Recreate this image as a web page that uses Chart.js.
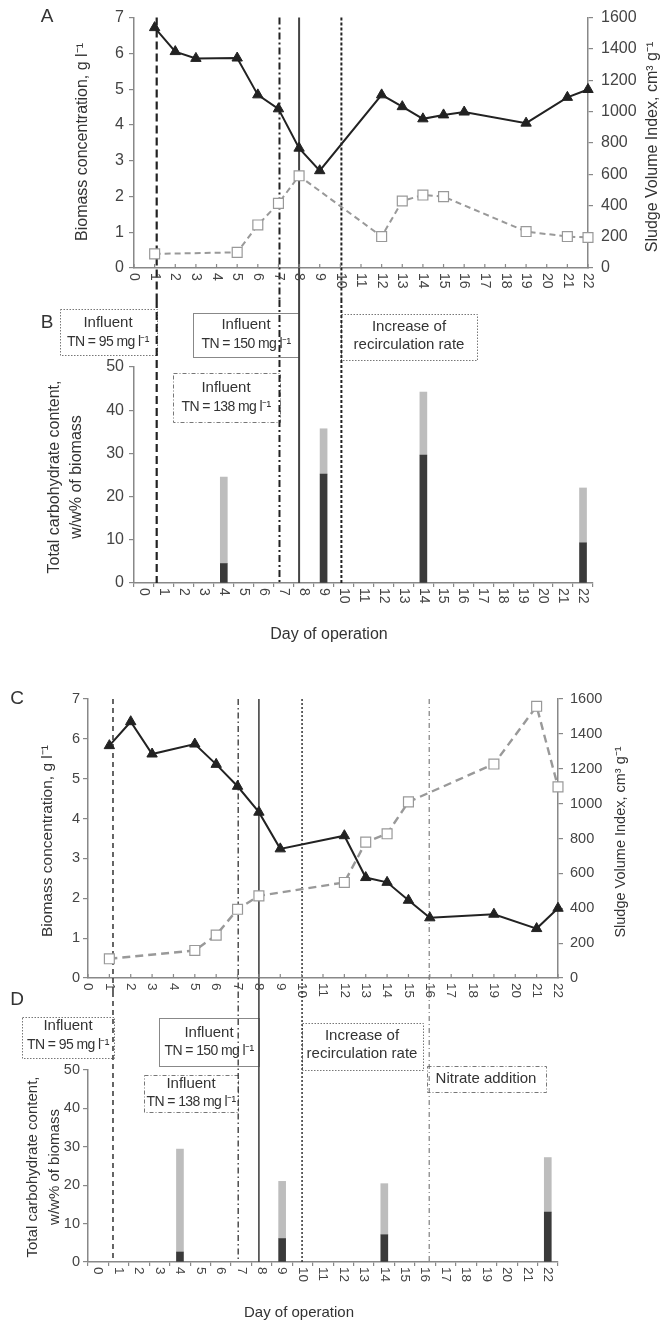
<!DOCTYPE html>
<html>
<head>
  <title>Biomass, SVI and carbohydrate content</title>
  <script src="https://cdn.jsdelivr.net/npm/chart.js@4"></script>
  <style>
    body {
      margin: 0;
      background-color: #fff;
    }

    .wrap {
      position: relative;
      width: 662px;
      height: 1326px;
    }

    canvas {
      position: absolute;
      left: 0;
    }
  </style>
</head>
<body>
  <div class="wrap">
    <canvas id="chartA" width="662" height="305" style="top:0px"></canvas>
    <canvas id="chartB" width="662" height="355" style="top:295px"></canvas>
    <canvas id="chartC" width="662" height="350" style="top:650px"></canvas>
    <canvas id="chartD" width="662" height="341" style="top:985px"></canvas>
  </div>

  <script>
    // days on the x axis
    const dayTicks = [0, 1, 2, 3, 4, 5, 6, 7, 8, 9, 10, 11, 12, 13, 14, 15, 16, 17, 18, 19, 20, 21, 22];

    // panel A
    const bioDaysA = [1, 2, 3, 5, 6, 7, 8, 9, 12, 13, 14, 15, 16, 19, 21, 22];
    const biomassA = [6.72, 6.05, 5.86, 5.87, 4.84, 4.45, 3.35, 2.72, 4.84, 4.51, 4.17, 4.28, 4.36, 4.05, 4.77, 4.99];
    const sviDaysA = [1, 5, 6, 7, 8, 12, 13, 14, 15, 19, 21, 22];
    const sviA = [90, 100, 275, 413, 589, 201, 428, 466, 456, 233, 201, 195];
    const eventDaysA = [1.1, 7.05, 8.0, 10.05];

    // panel B
    const carbDaysB = [4, 9, 14, 22];
    const carbDarkB = [4.5, 25.2, 29.6, 9.3];
    const carbLightB = [20.0, 10.5, 14.6, 12.7];

    // panel C
    const bioDaysC = [1, 2, 3, 5, 6, 7, 8, 9, 12, 13, 14, 15, 16, 19, 21, 22];
    const biomassC = [5.83, 6.43, 5.62, 5.87, 5.36, 4.81, 4.16, 3.24, 3.57, 2.52, 2.40, 1.95, 1.51, 1.60, 1.24, 1.75];
    const sviDaysC = [1, 5, 6, 7, 8, 12, 13, 14, 15, 19, 21, 22];
    const sviC = [110, 158, 246, 394, 471, 548, 779, 827, 1010, 1227, 1558, 1096];
    const eventDaysC = [1.17, 7.03, 8.0, 10.02, 15.97];

    // panel D
    const carbDaysD = [4, 9, 14, 22];
    const carbDarkD = [2.6, 6.1, 7.1, 13.0];
    const carbLightD = [26.8, 14.9, 13.3, 14.2];

    const FONT = '"Liberation Sans", Arial, sans-serif';
    const TXT = '#333';
    const AXIS = '#888';

    // line styles of the vertical event lines
    const eventStyleA = [
      { color: '#222', width: 2.2, dash: [8, 4] },
      { color: '#222', width: 2, dash: [7, 3, 2, 3] },
      { color: '#444', width: 2, dash: [] },
      { color: '#222', width: 2, dash: [3, 2] }
    ];
    const eventStyleC = [
      { color: '#333', width: 1.5, dash: [5, 4] },
      { color: '#333', width: 1.3, dash: [6, 3, 1.5, 3] },
      { color: '#444', width: 1.6, dash: [] },
      { color: '#333', width: 1.5, dash: [2, 2] },
      { color: '#666', width: 1, dash: [5, 3, 1, 3] }
    ];

    // annotation boxes (page coordinates)
    const boxesB = [
      { x: 60, y: 309, w: 97, h: 46, dash: [1.5, 1.5], lines: ['Influent', 'TN = 95 mg l⁻¹'], rows: [323, 342], cx: 108 },
      { x: 193, y: 313, w: 106, h: 44, dash: [], lines: ['Influent', 'TN = 150 mg l⁻¹'], rows: [325, 344], cx: 246 },
      { x: 173, y: 373, w: 107, h: 49, dash: [4, 2, 1, 2], lines: ['Influent', 'TN = 138 mg l⁻¹'], rows: [388, 407], cx: 226 },
      { x: 341, y: 314, w: 136, h: 46, dash: [1.5, 1.5], lines: ['Increase of', 'recirculation rate'], rows: [327, 345], cx: 409 }
    ];
    const boxesD = [
      { x: 22, y: 1017, w: 92, h: 41, dash: [1.5, 1.5], lines: ['Influent', 'TN = 95 mg l⁻¹'], rows: [1026, 1045], cx: 68 },
      { x: 159, y: 1018, w: 100, h: 48, dash: [], lines: ['Influent', 'TN = 150 mg l⁻¹'], rows: [1033, 1051], cx: 209 },
      { x: 144, y: 1075, w: 94, h: 37, dash: [4, 2, 1, 2], lines: ['Influent', 'TN = 138 mg l⁻¹'], rows: [1084, 1102], cx: 191 },
      { x: 302, y: 1023, w: 121, h: 47, dash: [1.5, 1.5], lines: ['Increase of', 'recirculation rate'], rows: [1036, 1054], cx: 362 },
      { x: 427, y: 1066, w: 119, h: 26, dash: [4, 2, 1, 2], lines: ['Nitrate addition'], rows: [1079], cx: 486 }
    ];

    let chartA, chartC;

    function vText(ctx, text, x, y, size) {
      ctx.save();
      ctx.translate(x, y);
      ctx.rotate(-Math.PI / 2);
      ctx.font = size + 'px ' + FONT;
      ctx.fillStyle = TXT;
      ctx.textAlign = 'center';
      ctx.textBaseline = 'middle';
      ctx.fillText(text, 0, 0);
      ctx.restore();
    }

    function hText(ctx, text, x, y, size, spacing) {
      ctx.save();
      ctx.font = size + 'px ' + FONT;
      ctx.fillStyle = TXT;
      ctx.textAlign = 'center';
      ctx.textBaseline = 'middle';
      if (spacing) ctx.letterSpacing = spacing;
      ctx.fillText(text, x, y);
      ctx.restore();
    }

    // day labels rotated clockwise, read top to bottom
    function dayLabels(chart, pixelFor, size, inwardTicks) {
      const ctx = chart.ctx;
      const bottom = chart.chartArea.bottom;
      dayTicks.forEach((d, i) => {
        const x = pixelFor(d, i);
        if (inwardTicks) {
          ctx.save();
          ctx.strokeStyle = AXIS;
          ctx.lineWidth = 1.2;
          ctx.beginPath();
          ctx.moveTo(x, bottom);
          ctx.lineTo(x, bottom - 4);
          ctx.stroke();
          ctx.restore();
        }
        ctx.save();
        ctx.translate(x, bottom + 5);
        ctx.rotate(Math.PI / 2);
        ctx.font = size + 'px ' + FONT;
        ctx.fillStyle = '#444';
        ctx.textAlign = 'left';
        ctx.textBaseline = 'middle';
        ctx.fillText(String(d), 0, 0);
        ctx.restore();
      });
    }

    function eventLines(ctx, scale, days, styles, y1, y2) {
      days.forEach((d, i) => {
        const st = styles[i];
        const x = scale.getPixelForValue(d);
        ctx.save();
        ctx.strokeStyle = st.color;
        ctx.lineWidth = st.width;
        ctx.setLineDash(st.dash);
        ctx.beginPath();
        ctx.moveTo(x, y1);
        ctx.lineTo(x, y2);
        ctx.stroke();
        ctx.restore();
      });
    }

    function drawBoxes(ctx, boxes, top) {
      boxes.forEach(b => {
        ctx.save();
        ctx.fillStyle = '#fff';
        ctx.fillRect(b.x, b.y - top, b.w, b.h);
        ctx.strokeStyle = b.dash.length ? '#777' : '#888';
        ctx.lineWidth = 1;
        ctx.setLineDash(b.dash);
        ctx.strokeRect(b.x + 0.5, b.y - top + 0.5, b.w, b.h);
        ctx.restore();
        b.lines.forEach((t, i) => {
          const tight = t.startsWith('TN');
          hText(ctx, t, b.cx, b.rows[i] - top, tight ? 14 : 15, tight ? '-0.6px' : '');
        });
      });
    }

    function makeLineChart(id, p) {
      return new Chart(document.getElementById(id), {
        type: 'line',
        data: {
          datasets: [{
            label: 'Biomass concentration',
            data: p.bioDays.map((d, i) => ({ x: d, y: p.bio[i] })),
            yAxisID: 'y',
            borderColor: '#222',
            backgroundColor: '#222',
            borderWidth: 2,
            pointStyle: 'triangle',
            pointRadius: 6,
            pointBorderWidth: 1,
            clip: false
          }, {
            label: 'Sludge Volume Index',
            data: p.sviDays.map((d, i) => ({ x: d, y: p.svi[i] })),
            yAxisID: 'y1',
            borderColor: '#999',
            borderWidth: p.sviWidth,
            borderDash: p.sviDash,
            pointStyle: 'rect',
            pointRadius: 7,
            pointBackgroundColor: '#fff',
            pointBorderColor: '#999',
            pointBorderWidth: 1.2,
            clip: false
          }]
        },
        options: {
          responsive: false,
          animation: false,
          layout: { padding: { top: p.top, left: 0, right: 0, bottom: 0 } },
          plugins: { legend: { display: false }, tooltip: { enabled: false } },
          scales: {
            x: {
              type: 'linear', min: 0, max: 22,
              ticks: { display: false, stepSize: 1 },
              grid: { display: false },
              border: { color: AXIS, width: 1.5 },
              afterFit: s => { s.height = p.xHeight; }
            },
            y: {
              position: 'left', min: 0, max: 7,
              ticks: { stepSize: 1, color: '#444', padding: p.tickPad, font: { family: FONT, size: p.tickSize } },
              grid: { drawOnChartArea: false, tickLength: 5, color: AXIS, lineWidth: 1.2 },
              border: { color: AXIS, width: 1.5 },
              afterFit: s => { s.width = p.left; }
            },
            y1: {
              position: 'right', min: 0, max: 1600,
              ticks: {
                stepSize: 200, color: '#444', padding: p.tickPadR, font: { family: FONT, size: p.tickSize },
                callback: v => String(v)
              },
              grid: { drawOnChartArea: false, tickLength: 5, color: AXIS, lineWidth: 1.2 },
              border: { color: AXIS, width: 1.5 },
              afterFit: s => { s.width = p.right; }
            }
          }
        },
        plugins: [{
          id: 'decor',
          beforeDatasetsDraw(chart) {
            eventLines(chart.ctx, chart.scales.x, p.events, p.eventStyles, chart.chartArea.top, chart.height - p.lineEnd);
          },
          afterDraw(chart) {
            const ctx = chart.ctx;
            dayLabels(chart, d => chart.scales.x.getPixelForValue(d), p.labelSize, true);
            vText(ctx, 'Biomass concentration, g l⁻¹', p.titleL[0], p.titleL[1], p.titleSize);
            vText(ctx, 'Sludge Volume Index, cm³ g⁻¹', p.titleR[0], p.titleR[1], p.titleSizeR);
            hText(ctx, p.letter, p.letterPos[0], p.letterPos[1], 19);
          }
        }]
      });
    }

    function makeBarChart(id, p) {
      const toXY = (days, vals) => days.map((d, i) => ({ x: String(d), y: vals[i] }));
      return new Chart(document.getElementById(id), {
        type: 'bar',
        data: {
          labels: dayTicks.map(String),
          datasets: [{
            label: 'lower part',
            data: toXY(p.days, p.dark),
            backgroundColor: '#3a3a3a',
            barThickness: 7
          }, {
            label: 'upper part',
            data: toXY(p.days, p.light),
            backgroundColor: '#bdbdbd',
            barThickness: 7
          }]
        },
        options: {
          responsive: false,
          animation: false,
          layout: { padding: { top: p.top, left: 0, right: p.padRight, bottom: 0 } },
          plugins: { legend: { display: false }, tooltip: { enabled: false } },
          scales: {
            x: {
              stacked: true,
              ticks: { display: false },
              grid: { drawOnChartArea: false, offset: true, tickLength: 4, color: AXIS, lineWidth: 1.2 },
              border: { color: AXIS, width: 1.5 },
              afterFit: s => { s.height = p.xHeight; }
            },
            y: {
              stacked: true, min: 0, max: 50,
              ticks: { stepSize: 10, color: '#444', padding: p.tickPad, font: { family: FONT, size: p.tickSize } },
              grid: { drawOnChartArea: false, tickLength: 5, color: AXIS, lineWidth: 1.2 },
              border: { color: AXIS, width: 1.5 },
              afterFit: s => { s.width = p.left; }
            }
          }
        },
        plugins: [{
          id: 'decor',
          beforeDatasetsDraw(chart) {
            const ctx = chart.ctx;
            drawBoxes(ctx, p.boxes, p.pageTop);
            // same page x as the event lines of the panel above
            eventLines(ctx, p.refChart().scales.x, p.events, p.eventStyles, p.lineStart, chart.chartArea.bottom);
          },
          afterDraw(chart) {
            const ctx = chart.ctx;
            dayLabels(chart, (d, i) => chart.scales.x.getPixelForValue(i), p.labelSize, false);
            vText(ctx, 'Total carbohydrate content,', p.title1[0], p.title1[1], p.titleSize);
            vText(ctx, 'w/w% of biomass', p.title2[0], p.title2[1], p.titleSize);
            hText(ctx, 'Day of operation', p.dayTitle[0], p.dayTitle[1], p.titleSize);
            hText(ctx, p.letter, p.letterPos[0], p.letterPos[1], 19);
          }
        }]
      });
    }

    chartA = makeLineChart('chartA', {
      bioDays: bioDaysA, bio: biomassA, sviDays: sviDaysA, svi: sviA,
      events: eventDaysA, eventStyles: eventStyleA,
      sviDash: [6, 4], sviWidth: 2,
      top: 17, left: 134, right: 74, xHeight: 37, lineEnd: 5,
      tickPad: 5, tickPadR: 8, tickSize: 16, labelSize: 14,
      titleL: [83, 142], titleR: [653, 147], titleSize: 16, titleSizeR: 16,
      letter: 'A', letterPos: [47, 17]
    });

    makeBarChart('chartB', {
      days: carbDaysB, dark: carbDarkB, light: carbLightB,
      events: eventDaysA, eventStyles: eventStyleA, refChart: () => chartA,
      boxes: boxesB, pageTop: 295, lineStart: 5,
      top: 72, padRight: 69, left: 134, xHeight: 67,
      tickPad: 5, tickSize: 16, labelSize: 14,
      title1: [55, 182], title2: [77, 182], dayTitle: [329, 340], titleSize: 16,
      letter: 'B', letterPos: [47, 28]
    });

    chartC = makeLineChart('chartC', {
      bioDays: bioDaysC, bio: biomassC, sviDays: sviDaysC, svi: sviC,
      events: eventDaysC, eventStyles: eventStyleC,
      sviDash: [8, 5], sviWidth: 2.4,
      top: 49, left: 88, right: 104, xHeight: 22, lineEnd: 8,
      tickPad: 3, tickPadR: 7, tickSize: 14.5, labelSize: 13.5,
      titleL: [48, 191], titleR: [621, 192], titleSize: 15.5, titleSizeR: 14.5,
      letter: 'C', letterPos: [17, 49]
    });

    makeBarChart('chartD', {
      days: carbDaysD, dark: carbDarkD, light: carbLightD,
      events: eventDaysC, eventStyles: eventStyleC, refChart: () => chartC,
      boxes: boxesD, pageTop: 985, lineStart: 7,
      top: 85, padRight: 104, left: 88, xHeight: 64,
      tickPad: 3, tickSize: 14.5, labelSize: 13.5,
      title1: [33, 182], title2: [55, 182], dayTitle: [299, 328], titleSize: 15,
      letter: 'D', letterPos: [17, 15]
    });
  </script>
</body>
</html>
